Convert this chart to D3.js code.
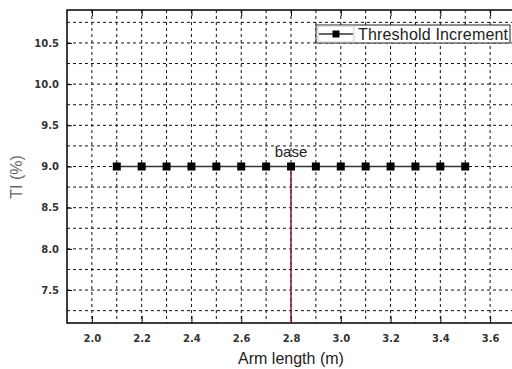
<!DOCTYPE html>
<html>
<head>
<meta charset="utf-8">
<script src="https://d3js.org/d3.v7.min.js"></script>
<style>
  body { margin: 0; background: #fff; }
  .tick text { font-family: Verdana, "DejaVu Sans", sans-serif; font-weight: bold; font-size: 10px; fill: #333; }
</style>
</head>
<body>
<svg id="chart" width="512" height="369"></svg>
<script>

// data
var armLength = [2.1, 2.2, 2.3, 2.4, 2.5, 2.6, 2.7, 2.8, 2.9, 3.0, 3.1, 3.2, 3.3, 3.4, 3.5]
var thresholdIncrement = [9, 9, 9, 9, 9, 9, 9, 9, 9, 9, 9, 9, 9, 9, 9]
var xTicks = [2.0, 2.2, 2.4, 2.6, 2.8, 3.0, 3.2, 3.4, 3.6]
var yTicks = [7.5, 8.0, 8.5, 9.0, 9.5, 10.0, 10.5]
var xGrid = d3.range(20, 37).map(function(d){ return d / 10 })
var yGrid = d3.range(29, 44).map(function(d){ return d / 4 })
var baseX = 2.8
var baseY = 9.0

var svg = d3.select("#chart")

// plot frame (window.top is reserved, so use other names)
var pLeft = 67, pRight = 515, pTop = 10, pBottom = 323

var x = d3.scaleLinear().domain([1.9, 3.7]).range([pLeft, pRight])
var y = d3.scaleLinear().domain([7.1, 10.9]).range([pBottom, pTop])

// dashed grid
svg.append("g").selectAll("line")
  .data(xGrid)
  .enter().append("line")
    .attr("x1", function(d){ return x(d) }).attr("x2", function(d){ return x(d) })
    .attr("y1", pTop).attr("y2", pBottom)
    .attr("stroke", "#111").attr("stroke-width", 1).attr("stroke-dasharray", "3,3")

svg.append("g").selectAll("line")
  .data(yGrid)
  .enter().append("line")
    .attr("x1", pLeft).attr("x2", pRight)
    .attr("y1", function(d){ return y(d) }).attr("y2", function(d){ return y(d) })
    .attr("stroke", "#111").attr("stroke-width", 1).attr("stroke-dasharray", "3,3")

// axes
var xAxis = svg.append("g")
  .attr("transform", "translate(0," + pBottom + ")")
  .call(d3.axisBottom(x).tickValues(xTicks).tickSizeInner(-7).tickSizeOuter(0).tickPadding(12)
    .tickFormat(d3.format(".1f")))
xAxis.select(".domain").remove()

var xTop = svg.append("g")
  .attr("transform", "translate(0," + pTop + ")")
  .call(d3.axisTop(x).tickValues(xTicks).tickSizeInner(-6).tickSizeOuter(0).tickFormat(""))
xTop.select(".domain").remove()

var yAxis = svg.append("g")
  .attr("transform", "translate(" + pLeft + ",0)")
  .call(d3.axisLeft(y).tickValues(yTicks).tickSizeInner(-5).tickSizeOuter(0).tickPadding(8)
    .tickFormat(d3.format(".1f")))
yAxis.select(".domain").remove()

// frame
svg.append("rect")
  .attr("x", pLeft).attr("y", pTop)
  .attr("width", pRight - pLeft).attr("height", pBottom - pTop)
  .attr("fill", "none").attr("stroke", "#000").attr("stroke-width", 1.5)

// base marker line
svg.append("line")
  .attr("x1", x(baseX)).attr("x2", x(baseX))
  .attr("y1", y(baseY)).attr("y2", pBottom)
  .attr("stroke", "#8b1c2c").attr("stroke-width", 1.5)

// series
var pts = armLength.map(function(d, i){ return [d, thresholdIncrement[i]] })
var line = d3.line()
  .x(function(d){ return x(d[0]) })
  .y(function(d){ return y(d[1]) })

svg.append("path")
  .datum(pts)
  .attr("d", line)
  .attr("fill", "none").attr("stroke", "#333").attr("stroke-width", 1.5)

svg.append("g").selectAll("rect")
  .data(pts)
  .enter().append("rect")
    .attr("x", function(d){ return x(d[0]) - 4 })
    .attr("y", function(d){ return y(d[1]) - 4 })
    .attr("width", 8).attr("height", 8)
    .attr("fill", "#000")

svg.append("text")
  .attr("x", x(baseX)).attr("y", y(baseY) - 10)
  .attr("text-anchor", "middle")
  .style("font-family", "Arial, 'Liberation Sans', sans-serif")
  .style("font-size", "15px").style("fill", "#222")
  .text("base")

// legend
var lg = svg.append("g").attr("transform", "translate(316,25)")
lg.append("rect")
  .attr("width", 194).attr("height", 18)
  .attr("fill", "#fff").attr("stroke", "#222").attr("stroke-width", 1)
lg.append("rect")
  .attr("x", 2).attr("y", 1).attr("width", 36).attr("height", 16)
  .attr("fill", "none").attr("stroke", "#bbb").attr("stroke-width", 0.8)
lg.append("line")
  .attr("x1", 3).attr("x2", 37).attr("y1", 9).attr("y2", 9)
  .attr("stroke", "#333").attr("stroke-width", 1.5)
lg.append("rect")
  .attr("x", 16.5).attr("y", 5.5).attr("width", 7).attr("height", 7).attr("fill", "#000")
lg.append("text")
  .attr("x", 42).attr("y", 15)
  .attr("textLength", 150)
  .style("font-family", "Arial, 'Liberation Sans', sans-serif")
  .style("font-size", "16px").style("fill", "#222")
  .text("Threshold Increment")

// axis titles
svg.append("text")
  .attr("x", x(2.8)).attr("y", 364)
  .attr("text-anchor", "middle")
  .style("font-family", "Arial, 'Liberation Sans', sans-serif")
  .style("font-size", "16px").style("fill", "#222")
  .text("Arm length (m)")

svg.append("text")
  .attr("transform", "translate(22,177) rotate(-90)")
  .attr("text-anchor", "middle")
  .style("font-family", "Arial, 'Liberation Sans', sans-serif")
  .style("font-size", "16px").style("fill", "#666")
  .text("TI (%)")

</script>
</body>
</html>
